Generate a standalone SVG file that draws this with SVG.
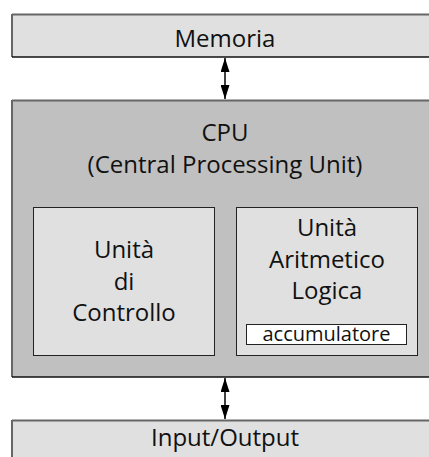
<svg xmlns="http://www.w3.org/2000/svg" width="429" height="457" viewBox="0 0 429 457">
  <style>
    text { font-family: "Open Sans", "DejaVu Sans", sans-serif; fill: #111; text-anchor: middle; }
    .lbl { font-size: 24px; }
    .small { font-size: 20px; }
    .light { fill: #e0e0e0; }
    .mid { fill: #c0c0c0; }
    .edge-l { stroke: #666; stroke-width: 2; }
    .edge-d { stroke: #111; stroke-width: 1.3; }
    .frame { stroke: #222; stroke-width: 1; }
    .wire { stroke: #000; stroke-width: 1.5; fill: none; }
  </style>
  <defs>
    <marker id="head" viewBox="0 0 14 9" refX="14" refY="4.5" markerWidth="14" markerHeight="9" markerUnits="userSpaceOnUse" orient="auto-start-reverse">
      <path d="M0,0 L14,4.5 L0,9 z" fill="#000"/>
    </marker>
  </defs>

  <g id="memoria">
    <rect class="light" x="12" y="14" width="430" height="43"/>
    <line class="edge-l" x1="12" y1="14" x2="12" y2="57"/>
    <line class="edge-l" x1="12" y1="14.5" x2="429" y2="14.5"/>
    <line class="edge-d" x1="12" y1="57" x2="429" y2="57"/>
    <text class="lbl" x="225" y="46.5">Memoria</text>
  </g>

  <g id="cpu">
    <rect class="mid" x="12" y="100" width="430" height="277"/>
    <line class="edge-l" x1="12" y1="100" x2="12" y2="377"/>
    <line class="edge-l" x1="12" y1="100.5" x2="429" y2="100.5"/>
    <line class="edge-d" x1="12" y1="377" x2="429" y2="377"/>
    <text class="lbl" x="225" y="140.5">CPU</text>
    <text class="lbl" x="225" y="173">(Central Processing Unit)</text>
  </g>

  <g id="controllo">
    <rect class="light frame" x="33.5" y="207.5" width="181" height="148"/>
    <text class="lbl" x="124" y="258">Unità</text>
    <text class="lbl" x="124" y="290">di</text>
    <text class="lbl" x="124" y="321">Controllo</text>
  </g>

  <g id="alu">
    <rect class="light frame" x="236.5" y="207.5" width="181" height="148"/>
    <text class="lbl" x="327" y="236">Unità</text>
    <text class="lbl" x="327" y="268">Aritmetico</text>
    <text class="lbl" x="327" y="299">Logica</text>
  </g>

  <g id="accumulatore">
    <rect fill="#fff" class="frame" x="246.5" y="324.5" width="160" height="20"/>
    <text class="small" x="326.5" y="341">accumulatore</text>
  </g>

  <g id="io">
    <rect class="light" x="12" y="420" width="430" height="50"/>
    <line class="edge-l" x1="12" y1="420" x2="12" y2="457"/>
    <line class="edge-l" x1="12" y1="420.5" x2="429" y2="420.5"/>
    <text class="lbl" x="225" y="446">Input/Output</text>
  </g>

  <g id="connectors">
    <line class="wire" x1="225" y1="58" x2="225" y2="99" marker-start="url(#head)" marker-end="url(#head)"/>
    <line class="wire" x1="225" y1="378" x2="225" y2="419" marker-start="url(#head)" marker-end="url(#head)"/>
  </g>
</svg>
